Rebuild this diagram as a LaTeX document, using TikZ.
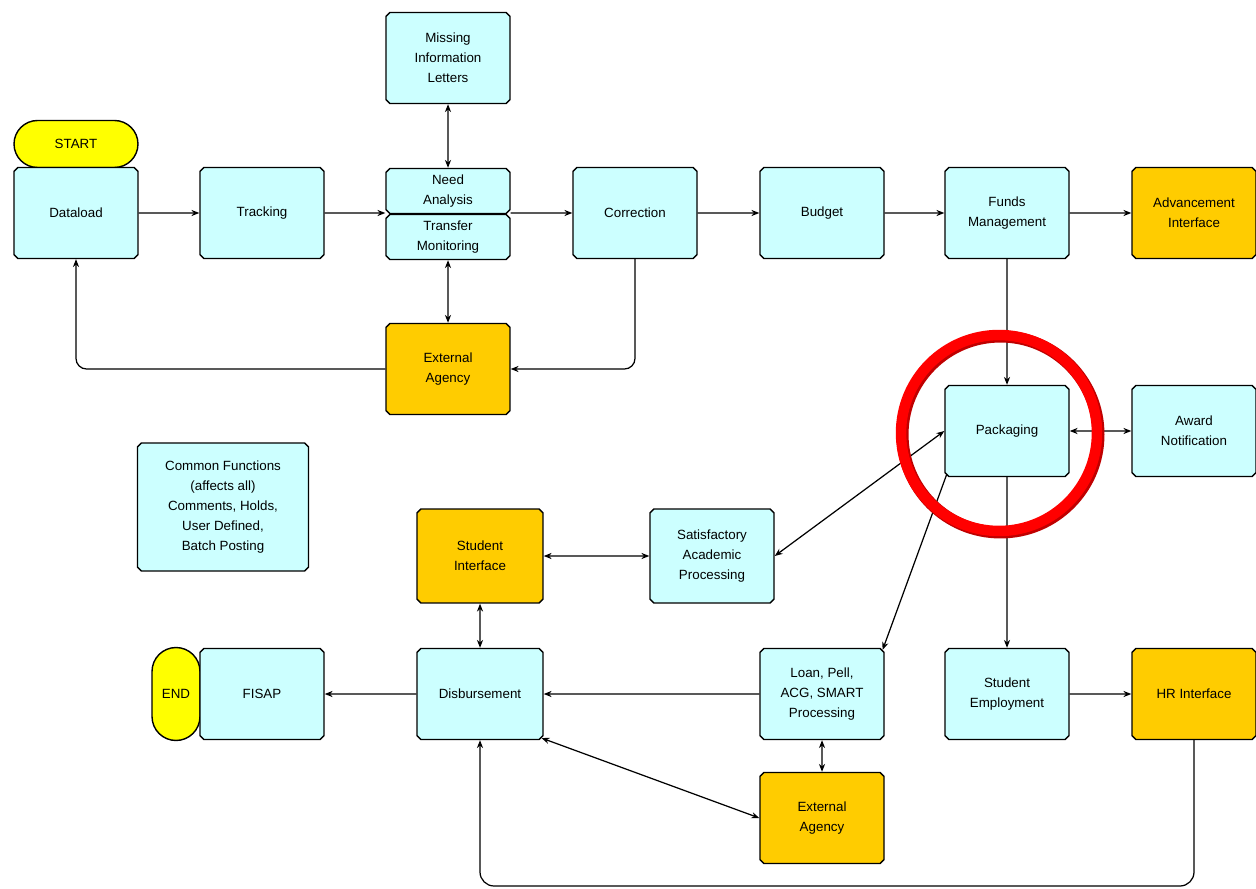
\documentclass[tikz,border=0pt]{standalone}
\usepackage{fontspec}
\setmainfont{Liberation Sans}
\usetikzlibrary{arrows.meta,shapes.misc}

\definecolor{boxblue}{HTML}{CCFFFF}
\definecolor{extorange}{HTML}{FFCC00}
\definecolor{termyellow}{HTML}{FFFF00}

\begin{document}
\begin{tikzpicture}[x=0.02cm,y=-0.02cm,
        box/.style={chamfered rectangle,chamfered rectangle xsep=1.1pt,chamfered rectangle ysep=1.1pt,
                    draw,line width=0.8pt,fill=boxblue,minimum width=2.48cm,minimum height=1.82cm,
                    inner sep=1pt,align=center,font=\fontsize{7.6}{11.4}\selectfont},
        ext/.style={box,fill=extorange},
        half/.style={box,minimum height=0.9cm},
        term/.style={rectangle,rounded corners=0.47cm,draw,line width=0.8pt,fill=termyellow,
                    inner sep=0pt,font=\fontsize{7.6}{11.4}\selectfont}]
        \useasboundingbox (0,0) rectangle (1256,888);

        % boxes
        \begin{scope}
            \node[term,minimum width=2.48cm,minimum height=0.94cm] (start) at (76,144) {START};
            \node[box] (dl) at (76,213) {Dataload};
            \node[box] (trk) at (262,213) {Tracking};
            \node[box] (miss) at (448,58) {Missing\\Information\\Letters};
            \node[half] (na) at (448,191) {Need\\Analysis};
            \node[half] (tm) at (448,237) {Transfer\\Monitoring};
            \node[box] (corr) at (635,213) {Correction};
            \node[box] (bud) at (822,213) {Budget};
            \node[box] (funds) at (1007,213) {Funds\\Management};
            \node[ext] (adv) at (1194,213) {Advancement\\Interface};
            \node[ext] (exta) at (448,369) {External\\Agency};
            \node[box] (pkg) at (1007,431) {Packaging};
            \node[box] (award) at (1194,431) {Award\\Notification};
            \node[box,minimum width=3.42cm,minimum height=2.56cm] (common) at (223,507)
                {Common Functions\\(affects all)\\Comments, Holds,\\User Defined,\\Batch Posting};
            \node[ext,minimum width=2.52cm,minimum height=1.88cm] (stint) at (480,556) {Student\\Interface};
            \node[box,minimum height=1.88cm] (sap) at (712,556) {Satisfactory\\Academic\\Processing};
            \node[term,rounded corners=0.48cm,minimum width=0.96cm,minimum height=1.86cm] (endt) at (176,694) {END};
            \node[box] (fisap) at (262,694) {FISAP};
            \node[box,minimum width=2.52cm] (disb) at (480,694) {Disbursement};
            \node[box] (loan) at (822,694) {Loan, Pell,\\ACG, SMART\\Processing};
            \node[box] (stemp) at (1007,694) {Student\\Employment};
            \node[ext] (hr) at (1194,694) {HR Interface};
            \node[ext] (extb) at (822,818) {External\\Agency};
        \end{scope}

        \coordinate (loop) at (480,886);

        % connectors
        \begin{scope}[>={Stealth[length=4.5pt,width=3.5pt]},line width=0.7pt,
                      every edge/.style={draw=black}]
            \path (dl) edge[->] (trk);
            \path (trk) edge[->] (trk -| na.west);
            \path (corr -| na.east) edge[->] (corr);
            \path (corr) edge[->] (bud);
            \path (bud) edge[->] (funds);
            \path (funds) edge[->] (adv);
            \path (miss) edge[<->] (na);
            \path (tm) edge[<->] (exta);
            \draw[->,rounded corners=6pt] (corr.south) |- (exta.east);
            \draw[->,rounded corners=6pt] (exta.west) -| (dl.south);
            \path (funds) edge[->] (pkg);
            \path (pkg) edge[<->] (award);
            \path (pkg.west) edge[<->] (sap.east);
            \path (pkg.south west) edge[->] (loan.north east);
            \path (pkg) edge[->] (stemp);
            \path (stemp) edge[->] (hr);
            \path (sap) edge[<->] (stint);
            \path (stint) edge[<->] (disb);
            \path (loan) edge[->] (disb);
            \path (disb) edge[->] (fisap);
            \path (loan) edge[<->] (extb);
            \path (disb.south east) edge[<->] (extb.west);
            \draw[->,rounded corners=8pt] (hr.south) |- (loop) -- (disb.south);
        \end{scope}

        % highlight ring
        \draw[red!75!black,line width=0.24cm] (1000.5,434.5) circle [radius=1.96cm];
        \draw[red,line width=0.21cm] (999,433) circle [radius=1.96cm];
\end{tikzpicture}
\end{document}
